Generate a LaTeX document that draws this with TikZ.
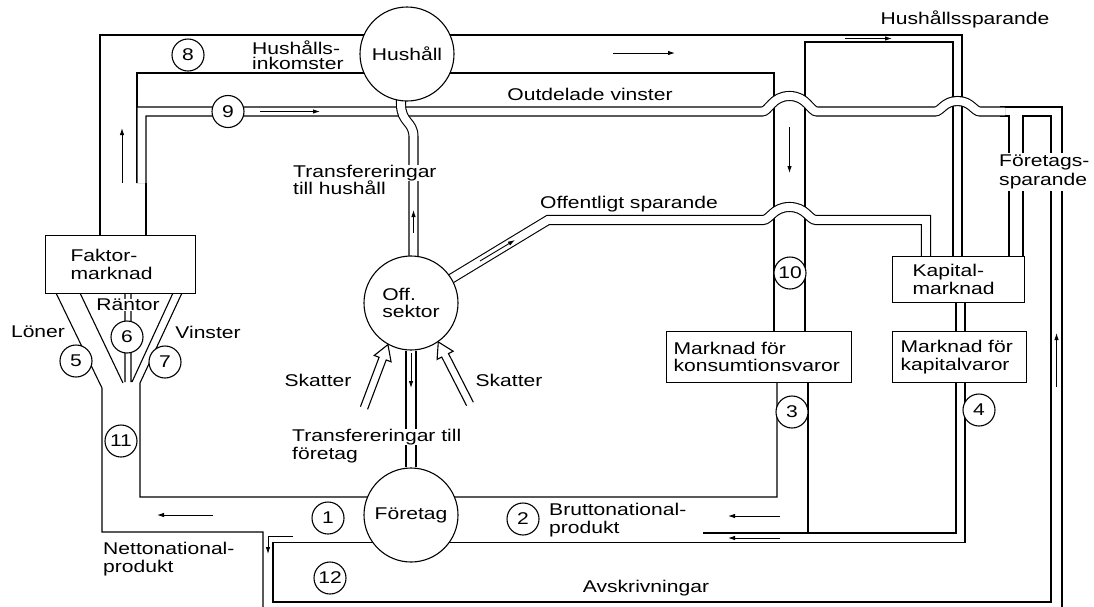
\documentclass[tikz,border=0pt]{standalone}
\usepackage{fontspec}
\setmainfont{Liberation Sans}[FakeStretch=1.24]
\usetikzlibrary{arrows.meta,calc}
\pgfdeclarelayer{pipes}
\pgfsetlayers{pipes,main}
\tikzset{pipe/.style={line width=1.1pt,line join=miter},
  tube/.style={pipe,double=white,double distance=7.9pt},
  sector/.style={circle,draw,line width=1.1pt,fill=white,minimum size=94pt,inner sep=0pt,align=left},
  num/.style={circle,draw,line width=1.1pt,fill=white,minimum size=32pt,inner sep=0pt},
  market/.style={draw,line width=1.1pt,fill=white,anchor=north west,align=left,inner ysep=0pt},
  lbl/.style={inner sep=0pt,align=left},
  flow/.style={-{Latex[length=7pt,width=4.5pt]},line width=0.9pt}}
\newcommand\whiteout[1]{{\setlength\fboxsep{0pt}\colorbox{white}{#1}}}
\newcommand\skattpil[2]{%
  \coordinate (sb) at ($(#2)!15pt!(#1)$);
  \draw[pipe] ($(#1)!3.8pt!90:(#2)$) -- ($(sb)!3.8pt!90:(#2)$) -- ($(sb)!9pt!90:(#2)$) -- (#2)
    -- ($(sb)!9pt!-90:(#2)$) -- ($(sb)!3.8pt!-90:(#2)$) -- ($(#1)!3.8pt!-90:(#2)$);}
\begin{document}
\begin{tikzpicture}[x=1pt,y=-1pt,font=\fontsize{17}{17.5}\selectfont]
\useasboundingbox (0,0) rectangle (1094,606);
\node[sector] (hush) at (407,54) {Hushåll};
\node[sector] (off) at (411,303) {Off.\\sektor};
\node[sector] (firm) at (411,515) {Företag};
\node[market,minimum height=58pt,inner xsep=25pt,text width=100pt] (faktor) at (45,235) {Faktor-\\marknad};
\node[market,minimum height=46pt,inner xsep=20pt,text width=92pt] (kapm) at (892,256) {Kapital-\\marknad};
\node[market,minimum height=51pt,inner xsep=7pt,text width=171pt] (konsv) at (666,331) {Marknad för\\konsumtionsvaror};
\node[market,minimum height=51pt,inner xsep=8pt,text width=118pt] (kapv) at (892,331) {Marknad för\\kapitalvaror};
\node[num] (n1) at (328,518) {1};
\node[num] (n2) at (523,519) {2};
\node[num] (n3) at (792,412) {3};
\node[num] (n4) at (979,410) {4};
\node[num] (n5) at (76,361) {5};
\node[num] (n6) at (127,337) {6};
\node[num] (n7) at (165,362) {7};
\node[num] (n8) at (188,55) {8};
\node[num] (n9) at (228,111.5) {9};
\node[num] (n10) at (790,273) {10};
\node[num] (n11) at (121,441) {11};
\node[num] (n12) at (330,578) {12};
\node[lbl,anchor=west,font=\fontsize{17}{15.5}\selectfont] (inkl) at (252,55) {Hushålls-\\inkomster};
\node[lbl] (utdl) at (590,94) {Outdelade vinster};
\node[lbl] (hhsp) at (965,19) {Hushållssparande};
\node[lbl,anchor=west] (trhh) at (293,180) {\whiteout{Transfereringar}\\till hushåll};
\node[lbl] (offsp) at (629,204) {Offentligt sparande};
\node[lbl] (skatv) at (318,380) {Skatter};
\node[lbl] (skath) at (509,380) {Skatter};
\node[lbl,anchor=west] (trft) at (292,446) {\whiteout{Transfereringar till}\\företag};
\node[lbl,anchor=west] (bnp) at (549,520) {Bruttonational-\\produkt};
\node[lbl] (avskr) at (646,588) {Avskrivningar};
\node[lbl,anchor=west] (nnp) at (103,559) {Nettonational-\\produkt};
\node[lbl] (loner) at (38,332) {Löner};
\node[lbl,fill=white] (rantor) at (128,305) {Räntor};
\node[lbl] (vinst) at (208,332) {Vinster};
\node[lbl,anchor=west,fill=white,inner ysep=2pt,font=\fontsize{17}{19}\selectfont] (ftsp) at (999,172) {Företags-\\sparande};
\begin{pgfonlayer}{pipes}
\draw[pipe] (100,235) -- (100,35) -- (962,35) -- (962,256);
\draw[pipe] (137,183) -- (137,73) -- (774,73) -- (774,331);
\draw[pipe] (805,331) -- (805,42) -- (953,42) -- (953,256);
\draw[pipe] (146,183) -- (146,235);
\draw[pipe] (56,293) -- (102,388) -- (102,532) -- (263,532) -- (263,610);
\draw[pipe] (80,293) -- (123,383) (125,293) -- (125,382) (131,293) -- (131,382) (173,293) -- (132,382);
\draw[pipe] (182,293) -- (140,383) -- (140,497) -- (777,497) -- (777,382);
\draw[pipe] (808,382) -- (808,533) (703,533) -- (956,533) -- (956,382) (956,302) -- (956,331) (965,302) -- (965,331);
\draw[pipe] (1023,256) -- (1023,116) -- (1051,116) -- (1051,602) -- (273,602) -- (273,542.5) -- (965,542.5) -- (965,382);
\draw[pipe] (1000,107) -- (1062,107) -- (1062,610) (1000,116) -- (1009,116) -- (1009,256);
\draw[tube] (141.5,183) -- (141.5,111.5) -- (762,111.5) .. controls (769,111.5) and (772,96) .. (789.5,96) .. controls (807,96) and (810,111.5) .. (817,111.5) -- (935,111.5) .. controls (941,111.5) and (944,101) .. (957.5,101) .. controls (971,101) and (974,111.5) .. (980,111.5) -- (1005,111.5);
\draw[tube] (off.center) -- (548,220) -- (763,220) .. controls (770,220) and (773,207) .. (789.5,207) .. controls (806,207) and (809,220) .. (816,220) -- (926,220) -- (926,280);
\draw[tube] (off.center) ++(2.5,0) -- (413.5,137) .. controls (413.5,121) and (401,123) .. (401,104) -- (401,60);
\draw[tube,double distance=8.9pt] (off) -- (firm);
\end{pgfonlayer}
\draw[flow] (122,183) -- (122,128);
\draw[flow] (260,111.5) -- (320,111.5);
\draw[flow] (613,53) -- (675,53);
\draw[flow] (845,38.5) -- (892,38.5);
\draw[flow] (789.5,127) -- (789.5,173);
\draw[flow] (413.5,233) -- (413.5,210);
\draw[flow] (411,353) -- (411,388);
\draw[flow] (480,261) -- (515,240);
\draw[flow] (213,515) -- (157,515);
\draw[flow] (293,536) -- (268,536) -- (268,554);
\draw[flow] (780,516) -- (728,516);
\draw[flow] (780,538) -- (728,538);
\draw[flow] (1056.5,387) -- (1056.5,333);
\coordinate (skatvo) at (364,408);
\coordinate (skatho) at (470,404);
\skattpil{skatvo}{off.-119}
\skattpil{skatho}{off.-55}
\end{tikzpicture}
\end{document}
